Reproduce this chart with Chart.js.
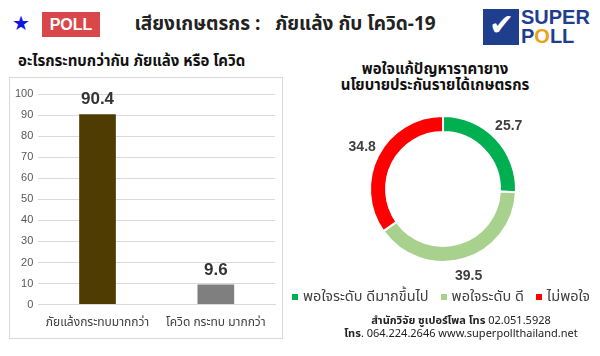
<!DOCTYPE html>
<html><head><meta charset="utf-8">
<script src="https://cdn.jsdelivr.net/npm/chart.js@4"></script>
<style>
html,body{margin:0;padding:0;background:#fff;width:600px;height:356px;overflow:hidden;font-family:"Noto Sans Thai","Noto Sans",sans-serif;}
.abs{position:absolute;}
#star{left:12px;top:14px;color:#1515e0;font-size:20px;line-height:20px;}
#poll{left:42px;top:12px;width:58px;height:25px;background:#d9474a;color:#fff;font:bold 16px "Liberation Sans",sans-serif;text-align:center;line-height:25px;}
#title{left:110px;width:350px;top:10px;text-align:center;font-weight:bold;font-size:19px;color:#222;white-space:pre;}
#logo{left:483px;top:9px;width:112px;height:40px;}
#box{left:9px;top:77px;width:272px;height:260px;border:1px solid #d9d9d9;}
#sub1{left:18px;top:50px;font-weight:bold;font-size:15px;color:#111;white-space:nowrap;}
#sub2{left:300px;top:62px;width:270px;text-align:center;font-weight:bold;font-size:15px;line-height:16px;color:#111;}
#legend{left:292px;top:286px;width:310px;font-size:14.5px;color:#404040;white-space:nowrap;}
#legend span.sq{display:inline-block;width:6px;height:6px;margin-right:5px;vertical-align:middle;}
#foot{left:330px;top:314px;width:262px;text-align:center;font-size:11px;line-height:13px;color:#222;}
</style></head><body>
<div id="star" class="abs">★</div>
<div id="poll" class="abs">POLL</div>
<div id="title" class="abs">เสียงเกษตรกร :   ภัยแล้ง กับ โควิด-19</div>
<div id="logo" class="abs">
  <div style="position:absolute;left:0;top:0;width:36px;height:36px;background:#1f3e8e;"></div>
  <div style="position:absolute;left:6px;top:-2px;color:#fff;font:bold 30px 'DejaVu Sans';">✔</div>
  <div style="position:absolute;left:38px;top:-1px;color:#1f3e8e;font:900 20px 'Liberation Sans',sans-serif;line-height:19px;">SUPER<br>P<span style="color:#e8a317">O</span>LL</div>
</div>
<div id="sub1" class="abs">อะไรกระทบกว่ากัน ภัยแล้ง หรือ โควิด</div>
<div id="box" class="abs"></div>
<div id="sub2" class="abs">พอใจแก้ปัญหาราคายาง<br>นโยบายประกันรายได้เกษตรกร</div>
<canvas id="bar" class="abs" style="left:10px;top:78px" width="271" height="258"></canvas>
<canvas id="pie" class="abs" style="left:323px;top:99px" width="240" height="188"></canvas>
<div id="legend" class="abs"></div>
<div id="foot" class="abs"><b>สำนักวิจัย ซูเปอร์โพล โทร</b> 02.051.5928<br><b>โทร</b>. 064.224.2646 www.superpollthailand.net</div>
<script>
const barCategories = ["ภัยแล้งกระทบมากกว่า", "โควิด กระทบ มากกว่า"];
const barValues = [90.4, 9.6];
const barColors = ["#4e3c02", "#7f7f7f"];
const pieCategories = ["พอใจระดับ ดีมากขึ้นไป", "พอใจระดับ ดี", "ไม่พอใจ"];
const pieValues = [25.7, 39.5, 34.8];
const pieColors = ["#00b050", "#a9d18e", "#ff0000"];

const numFont = '"Liberation Sans Narrow","Liberation Sans",sans-serif';
const thaiFont = '"Noto Sans Thai","Noto Sans",sans-serif';

const barLabels = {
  id: 'barLabels',
  afterDatasetsDraw(chart) {
    const ctx = chart.ctx;
    const meta = chart.getDatasetMeta(0);
    ctx.save();
    ctx.font = 'bold 17px ' + numFont;
    ctx.fillStyle = '#333';
    ctx.textAlign = 'center';
    ctx.textBaseline = 'bottom';
    meta.data.forEach((el, i) => {
      ctx.fillText(barValues[i].toFixed(1), el.x, el.y - 6);
    });
    ctx.restore();
  }
};

new Chart(document.getElementById('bar'), {
  type: 'bar',
  data: { labels: barCategories, datasets: [{ data: barValues, backgroundColor: barColors, barPercentage: 0.31, categoryPercentage: 1 }] },
  options: {
    responsive: false, animation: false,
    layout: { padding: { top: 16, right: 6, left: 0, bottom: 1 } },
    plugins: { legend: { display: false }, tooltip: { enabled: false } },
    scales: {
      y: { min: 0, max: 100, ticks: { stepSize: 10, color: '#595959', font: { family: numFont, size: 11 }, padding: 5 },
           grid: { color: '#d9d9d9', drawTicks: false }, border: { display: false } },
      x: { ticks: { color: '#404040', font: { family: thaiFont, size: 12 }, padding: 4 },
           grid: { display: false }, border: { color: '#d9d9d9' } }
    }
  },
  plugins: [barLabels]
});

const pieLabels = {
  id: 'pieLabels',
  afterDatasetsDraw(chart) {
    const ctx = chart.ctx;
    const meta = chart.getDatasetMeta(0);
    ctx.save();
    ctx.font = 'bold 14px ' + numFont;
    ctx.fillStyle = '#404040';
    ctx.textAlign = 'center';
    ctx.textBaseline = 'middle';
    meta.data.forEach((el, i) => {
      const a = (el.startAngle + el.endAngle) / 2;
      const r = el.outerRadius + 18;
      ctx.fillText(pieValues[i].toFixed(1), el.x + Math.cos(a) * r, el.y + Math.sin(a) * r);
    });
    ctx.restore();
  }
};

new Chart(document.getElementById('pie'), {
  type: 'doughnut',
  data: { labels: pieCategories, datasets: [{ data: pieValues, backgroundColor: pieColors, borderColor: '#fff', borderWidth: 2 }] },
  options: {
    responsive: false, animation: false, cutout: '78%',
    layout: { padding: { top: 16, bottom: 24, left: 16, right: 16 } },
    plugins: { legend: { display: false }, tooltip: { enabled: false } }
  },
  plugins: [pieLabels]
});

document.getElementById('legend').innerHTML = pieCategories.map((c, i) =>
  `<span style="margin-right:12px"><span class="sq" style="background:${pieColors[i]}"></span>${c}</span>`).join('');
</script>
</body></html>
